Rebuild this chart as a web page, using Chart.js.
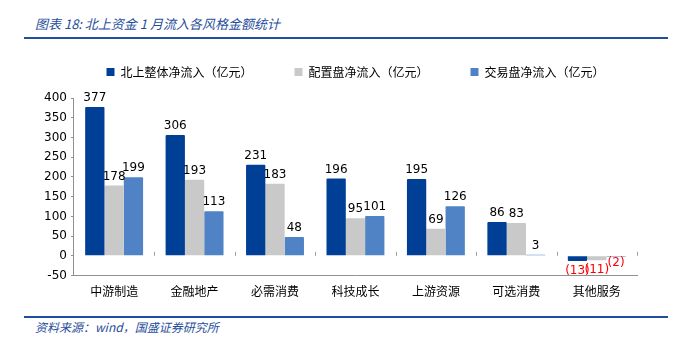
<!DOCTYPE html>
<html>
<head>
<meta charset="utf-8">
<script src="https://cdn.jsdelivr.net/npm/chart.js@4.4.0/dist/chart.umd.min.js"></script>
<style>
  body { margin: 0; width: 683px; height: 345px; background: #fff; position: relative; overflow: hidden; }
  .title { position: absolute; left: 35px; top: 14px; font: italic 13px "Noto Sans CJK SC"; color: #1f4e9c; }
  .rule { position: absolute; left: 24px; width: 644px; height: 2px; background: #1f4e9c; }
  .src { position: absolute; left: 35px; top: 318px; font: italic 12px "Noto Sans CJK SC"; color: #1f4e9c; }
  #wrap { position: absolute; left: 0; top: 24px; width: 683px; height: 288px; }
</style>
</head>
<body>
<div class="title">图表 18:  北上资金 1 月流入各风格金额统计</div>
<div class="rule" style="top:37px"></div>
<div id="wrap"><canvas id="c"></canvas></div>
<div class="rule" style="top:316px"></div>
<div class="src">资料来源：wind，国盛证券研究所</div>
<script>
// categories and series (亿元)
const categories = ["中游制造", "金融地产", "必需消费", "科技成长", "上游资源", "可选消费", "其他服务"];
const totalFlow = [377, 306, 231, 196, 195, 86, -13];
const allocFlow = [178, 193, 183, 95, 69, 83, -11];
const tradeFlow = [199, 113, 48, 101, 126, 3, -2];
const seriesNames = ["北上整体净流入（亿元）", "配置盘净流入（亿元）", "交易盘净流入（亿元）"];

// fixed legend height so the plot sits where the original does
const legendHeight = {
  id: "legendHeight",
  beforeInit(chart) {
    const fit = chart.legend.fit;
    chart.legend.fit = function () {
      fit.bind(chart.legend)();
      this.height = 74;
    };
  },
  afterLayout(chart) {
    // original legend sits a bit right of centre
    chart.legend.left += 17;
    chart.legend.right += 17;
  }
};

const labelPlugin = {
  id: "barLabels",
  afterDatasetsDraw(chart) {
    const ctx = chart.ctx;
    const x = chart.scales.x;
    const zero = chart.scales.y.getPixelForValue(0);
    ctx.save();
    // small upward ticks between categories
    ctx.strokeStyle = "#a0a0a0";
    ctx.lineWidth = 1;
    const step = x.getPixelForValue(1) - x.getPixelForValue(0);
    for (let i = 1; i <= categories.length; i++) {
      const px = Math.round(x.getPixelForValue(i) - step / 2) + 0.5;
      ctx.beginPath();
      ctx.moveTo(px, zero);
      ctx.lineTo(px, zero - 4);
      ctx.stroke();
    }
    ctx.font = "12px 'DejaVu Sans'";
    ctx.textAlign = "center";
    chart.data.datasets.forEach((ds, i) => {
      chart.getDatasetMeta(i).data.forEach((bar, j) => {
        const v = ds.data[j];
        if (v >= 0) {
          ctx.fillStyle = "#000";
          ctx.textBaseline = "bottom";
          ctx.fillText(String(v), bar.x, bar.y - 3);
        } else {
          ctx.fillStyle = "#ff0000";
          ctx.textBaseline = "top";
          ctx.fillText("(" + Math.abs(v) + ")", bar.x, bar.y + 4 + (i === 2 ? -4 : 0));
        }
      });
    });
    ctx.restore();
  }
};

new Chart(document.getElementById("c"), {
  type: "bar",
  data: {
    labels: categories,
    datasets: [
      { label: seriesNames[0], data: totalFlow, backgroundColor: "#003f96" },
      { label: seriesNames[1], data: allocFlow, backgroundColor: "#c9c9c9" },
      { label: seriesNames[2], data: tradeFlow, backgroundColor: "#4f83c6" }
    ]
  },
  options: {
    responsive: true,
    maintainAspectRatio: false,
    animation: false,
    layout: { padding: { left: 40, right: 46, top: 0, bottom: 12 } },
    datasets: { bar: { barPercentage: 1, categoryPercentage: 0.72, borderRadius: 1 } },
    plugins: {
      legend: {
        labels: {
          boxWidth: 8, boxHeight: 8, padding: 42,
          font: { family: "Noto Sans CJK SC", size: 12 }, color: "#000"
        }
      },
      tooltip: { enabled: false }
    },
    scales: {
      x: {
        grid: { display: false },
        border: { color: "#909090" },
        ticks: { font: { family: "Noto Sans CJK SC", size: 12 }, color: "#000", padding: 1 }
      },
      y: {
        min: -50, max: 400,
        ticks: { stepSize: 50, autoSkip: false, font: { family: "DejaVu Sans", size: 12 }, color: "#000", padding: 4 },
        grid: { drawOnChartArea: false, tickLength: 3, color: "#909090" },
        border: { color: "#909090" }
      }
    }
  },
  plugins: [legendHeight, labelPlugin]
});
</script>
</body>
</html>
